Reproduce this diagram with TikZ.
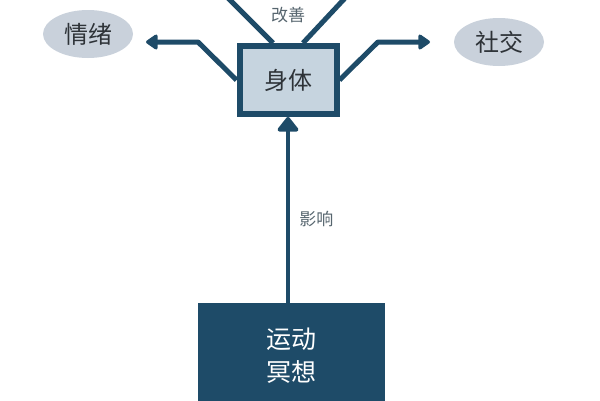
\documentclass[tikz,border=0pt]{standalone}
\usepackage{fontspec}
\setmainfont{Noto Sans CJK SC}
\usepackage{tikz}
\usetikzlibrary{arrows.meta,shapes,positioning}
\definecolor{deepblue}{HTML}{1E4B68}
\definecolor{paleblue}{HTML}{C6D4DF}
\definecolor{mistgrey}{HTML}{C9D1DB}
\definecolor{inkgrey}{HTML}{2E3338}
\definecolor{notegrey}{HTML}{56656E}

\begin{document}
\begin{tikzpicture}[x=1pt,y=-1pt]
            \tikzset{
                bodybox/.style = {draw=deepblue, line width=6pt, fill=paleblue, minimum width=97pt, minimum height=68pt, text=inkgrey, font=\fontsize{24}{28}\selectfont},
                practicebox/.style = {fill=deepblue, minimum width=187pt, minimum height=106pt, text=white, align=center, font=\fontsize{25}{33}\selectfont},
                mood/.style = {ellipse, fill=mistgrey, minimum width=90pt, minimum height=48pt, inner sep=0pt, text=inkgrey, font=\fontsize{24}{28}\selectfont},
                flow/.style = {draw=deepblue, line width=5pt, line join=round, -{Triangle[length=13pt,width=17pt,round]}},
                rise/.style = {draw=deepblue, line width=4pt, -{Triangle[length=16pt,width=24pt,round]}},
                branch/.style = {draw=deepblue, line width=5pt},
                note/.style = {text=notegrey, font=\fontsize{17}{20}\selectfont}
            }
            \useasboundingbox (0,0) rectangle (600,400);
            %\draw[help lines] (0,0) grid[step=50] (600,400);
            \node[bodybox] (body) at (288,80) {身体};
            \node[mood] (emotion) at (88,34) {情绪};
            \node[mood] (social) at (499,42) {社交};
            \node[practicebox] (practice) at (291,356) {运动\\冥想};
            \node[note] (improve) at (288,15) {改善};
            % side branches
            \coordinate (kneeL) at (198,42);
            \coordinate (tipL) at (146,42);
            \coordinate (kneeR) at (378,42);
            \coordinate (tipR) at (430,42);
            \draw[flow] (body.west) -- (kneeL) -- (tipL);
            \draw[flow] (body.east) -- (kneeR) -- (tipR);
            % upper branches, cut by the page edge
            \coordinate (upL) at (226,-4);
            \coordinate (upR) at (347,-4);
            \draw[branch] ([xshift=-15pt]body.north) -- (upL);
            \draw[branch] ([xshift=15pt]body.north) -- (upR);
            % influence
            \draw[rise] (body.south |- practice.north) -- node[note, pos=0.45, right=6pt] (effect) {影响} (body.south);
        \end{tikzpicture}
\end{document}
